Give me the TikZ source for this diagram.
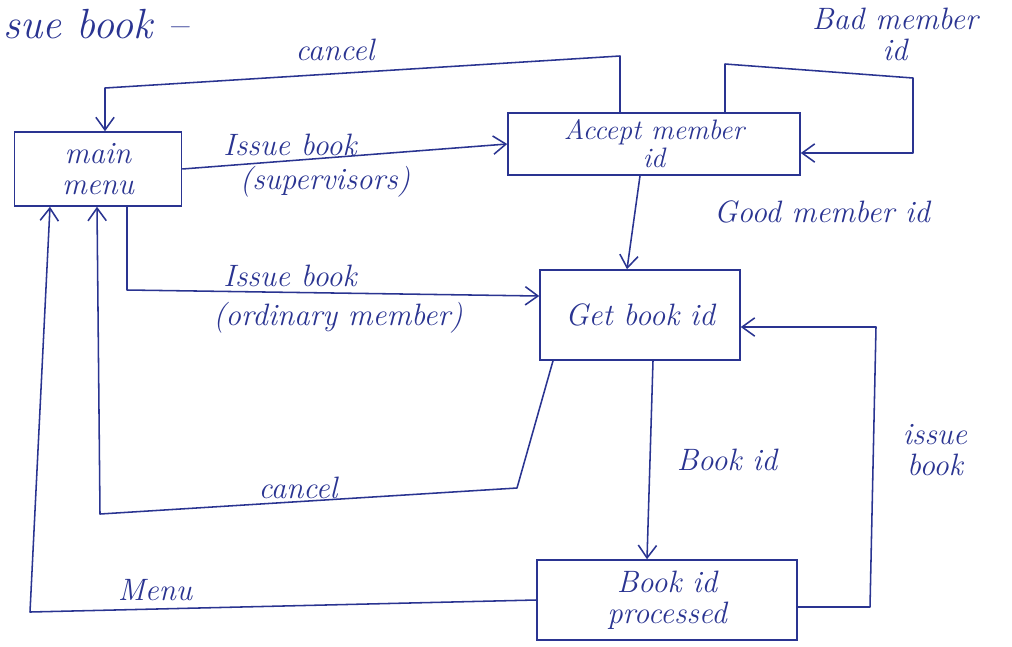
\documentclass[tikz,border=0pt]{standalone}
\usetikzlibrary{arrows.meta}
\definecolor{ink}{RGB}{42,52,145}
\newcommand\handfont{\fontsize{22}{22}\selectfont\itshape}
\begin{document}
\begin{tikzpicture}[x=0.025cm,y=-0.025cm,
  box/.style={draw=ink, line width=1.1pt, text=ink, align=center, inner sep=0pt, font=\handfont},
  flow/.style={draw=ink, line width=1.1pt, line join=round, -{Straight Barb[length=9pt,width=13pt]}},
  lbl/.style={text=ink, font=\handfont, align=center, inner sep=1pt}]
\useasboundingbox (0,0) rectangle (1012,646);

% heading
\node[lbl, anchor=west, font=\fontsize{30}{30}\selectfont\itshape] (head) at (2,24) {sue book --};

% states
\node[box, minimum width=167*0.025cm, minimum height=74*0.025cm] (menu) at (98,169) {main\\menu};
\node[box, minimum width=292*0.025cm, minimum height=62*0.025cm, font=\fontsize{20}{20}\selectfont\itshape] (acc) at (654,144) {Accept member\\id};
\node[box, minimum width=200*0.025cm, minimum height=90*0.025cm] (get) at (640,315) {Get book id};
\node[box, minimum width=260*0.025cm, minimum height=80*0.025cm] (proc) at (667,600) {Book id\\processed};

% cancel back to the main menu
\draw[flow] (620,0 |- acc.north) -- (620,56) -- (105,88) -- (105,0 |- menu.north);
\node[lbl] (lcancel1) at (335,50) {cancel};

% issue book for supervisors
\draw[flow] (menu.east) -- (acc.west);
\node[lbl] (lsup1) at (290,145) {Issue book};
\node[lbl] (lsup2) at (325,182) {(supervisors)};

% bad member id loop
\draw[flow] (725,0 |- acc.north) -- (725,64) -- (913,78) -- (913,153) -- (acc.east |- 913,153);
\node[lbl] (lbad) at (895,34) {Bad member\\id};

% good member id
\draw[flow] (640,0 |- acc.south) -- (627,0 |- get.north);
\node[lbl] (lgood) at (822,212) {Good member id};

% issue book for ordinary members
\draw[flow] (127,0 |- menu.south) -- (127,290) -- (get.west |- 0,296);
\node[lbl] (lord1) at (290,276) {Issue book};
\node[lbl] (lord2) at (338,318) {(ordinary member)};

% cancel from get book id
\draw[flow] (553,0 |- get.south) -- (517,488) -- (100,514) -- (97,0 |- menu.south);
\node[lbl] (lcancel2) at (298,488) {cancel};

% book id
\draw[flow] (653,0 |- get.south) -- (647,0 |- proc.north);
\node[lbl] (lbook) at (727,460) {Book id};

% back to menu
\draw[flow] (proc.west) -- (30,612) -- (50,0 |- menu.south);
\node[lbl] (lmenu) at (155,590) {Menu};

% issue another book
\draw[flow] (proc.east |- 0,607) -- (870,607) -- (876,327) -- (get.east |- 0,327);
\node[lbl] (lissue) at (935,450) {issue\\book};
\end{tikzpicture}
\end{document}
